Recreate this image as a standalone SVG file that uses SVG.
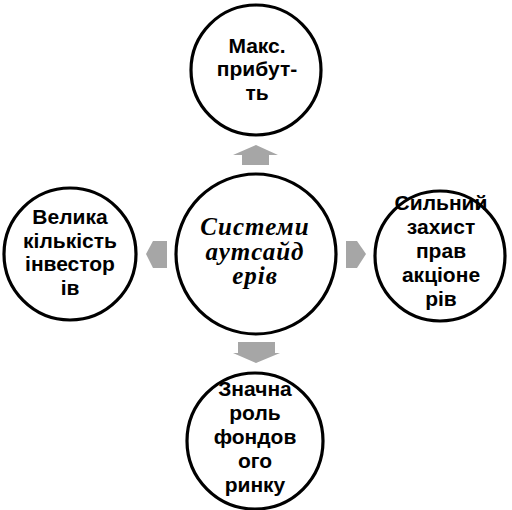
<svg xmlns="http://www.w3.org/2000/svg" width="512" height="510" viewBox="0 0 512 510">
<style>
.c{fill:#fff;stroke:#000;stroke-width:3.2}
.t{font-family:"Liberation Sans",Arial,sans-serif;font-weight:bold;font-size:21px;fill:#000;text-anchor:middle}
.m{font-family:"Liberation Serif","Times New Roman",serif;font-weight:bold;font-style:italic;font-size:25px;letter-spacing:1px;fill:#000;text-anchor:middle}
.a{fill:#a6a6a6}
</style>
<rect width="512" height="510" fill="#fff"/>
<g id="connectors">
<polygon class="a" points="256,145 278,155 269,155 269,165 242,165 242,155 233,155"/>
<polygon class="a" points="238,342 275,342 275,353 280,353 256,363 233,353 238,353"/>
<polygon class="a" points="146,254 153,241 167,241 167,268 153,268"/>
<polygon class="a" points="346,241 357,241 366,254 357,268 346,268"/>
</g>
<g id="center">
<circle class="c" cx="256" cy="254" r="80"/>
<text class="m" x="255" y="235">Системи</text>
<text class="m" x="255" y="259.5">аутсайд</text>
<text class="m" x="255" y="284">ерів</text>
</g>
<g id="top">
<circle class="c" cx="256" cy="70" r="65"/>
<text class="t" x="257" y="53">Макс.</text>
<text class="t" x="257" y="76">прибут-</text>
<text class="t" x="257" y="100">ть</text>
</g>
<g id="left">
<circle class="c" cx="70" cy="254" r="66"/>
<text class="t" x="70" y="224">Велика</text>
<text class="t" x="70" y="248">кількість</text>
<text class="t" x="70" y="271">інвестор</text>
<text class="t" x="70" y="295">ів</text>
</g>
<g id="right">
<circle class="c" cx="440" cy="256" r="65"/>
<text class="t" x="441" y="210">Сильний</text>
<text class="t" x="441" y="234">захист</text>
<text class="t" x="441" y="258">прав</text>
<text class="t" x="441" y="282">акціоне</text>
<text class="t" x="441" y="306">рів</text>
</g>
<g id="bottom">
<circle class="c" cx="255" cy="441" r="68"/>
<text class="t" x="255" y="396">Значна</text>
<text class="t" x="255" y="420">роль</text>
<text class="t" x="255" y="444">фондов</text>
<text class="t" x="255" y="468">ого</text>
<text class="t" x="255" y="492">ринку</text>
</g>
</svg>
